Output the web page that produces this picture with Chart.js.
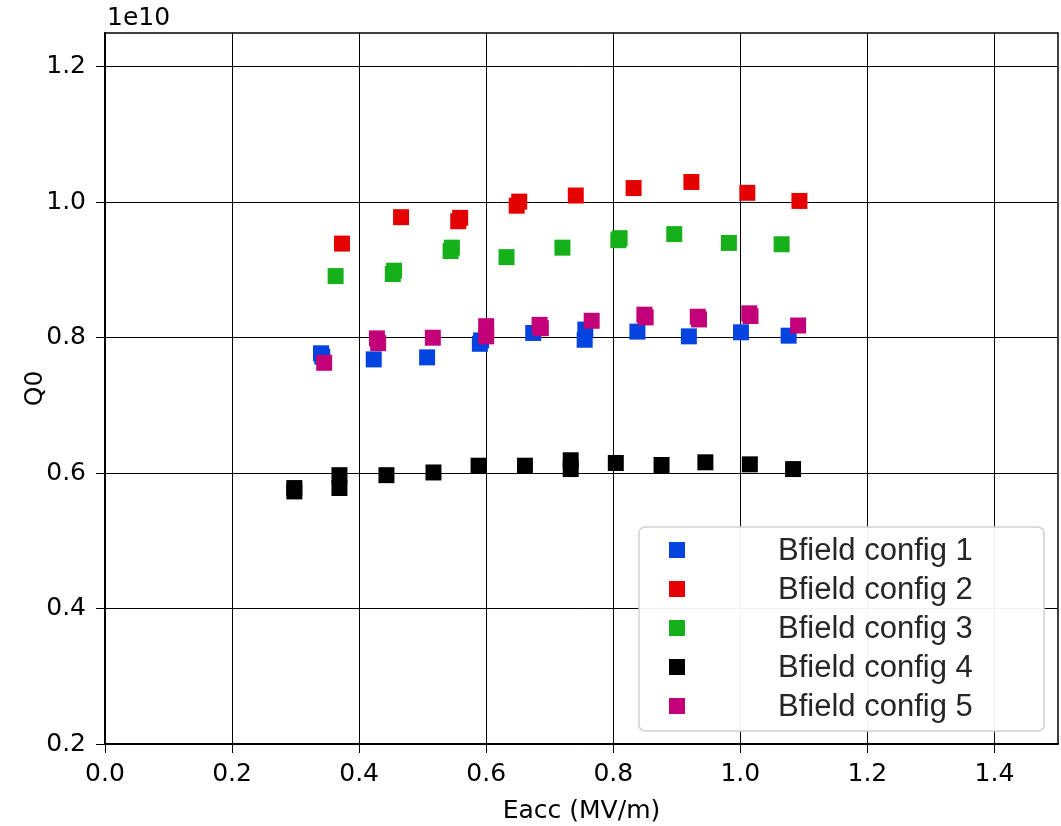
<!DOCTYPE html>
<html>
<head>
<meta charset="utf-8">
<script src="https://cdn.jsdelivr.net/npm/chart.js@4.4.1/dist/chart.umd.min.js"></script>
<style>
  body { margin: 0; background: #fff; overflow: hidden; }
  #wrap { width: 1061px; height: 826px; }
</style>
</head>
<body>
<div id="wrap"><canvas id="myChart"></canvas></div>
<script>
// Q0 values are in units of 1e10 (matches the axis offset label)
const labels = ["Bfield config 1", "Bfield config 2", "Bfield config 3", "Bfield config 4", "Bfield config 5"];
const colors = ["#0343df", "#e50000", "#15b01a", "#000000", "#c20078"];

const eacc_1 = [0.340, 0.342, 0.423, 0.507, 0.590, 0.592, 0.674, 0.755, 0.756, 0.838, 0.919, 1.001, 1.076];
const q0_1   = [0.777, 0.772, 0.768, 0.771, 0.791, 0.796, 0.807, 0.797, 0.812, 0.809, 0.802, 0.808, 0.803];

const eacc_2 = [0.373, 0.466, 0.556, 0.559, 0.648, 0.652, 0.741, 0.832, 0.923, 1.011, 1.093];
const q0_2   = [0.939, 0.978, 0.972, 0.977, 0.995, 1.001, 1.010, 1.021, 1.030, 1.014, 1.002];

const eacc_3 = [0.363, 0.453, 0.455, 0.544, 0.546, 0.632, 0.720, 0.808, 0.810, 0.896, 0.982, 1.065];
const q0_3   = [0.891, 0.894, 0.899, 0.928, 0.933, 0.919, 0.933, 0.944, 0.947, 0.953, 0.940, 0.938];

const eacc_4 = [0.298, 0.298, 0.369, 0.369, 0.443, 0.517, 0.588, 0.661, 0.733, 0.733, 0.804, 0.876, 0.945, 1.015, 1.083];
const q0_4   = [0.578, 0.573, 0.597, 0.578, 0.597, 0.601, 0.611, 0.611, 0.619, 0.606, 0.615, 0.612, 0.616, 0.613, 0.606];

const eacc_5 = [0.345, 0.428, 0.430, 0.516, 0.600, 0.600, 0.684, 0.686, 0.766, 0.849, 0.851, 0.933, 0.935, 1.014, 1.016, 1.091];
const q0_5   = [0.763, 0.799, 0.792, 0.800, 0.817, 0.802, 0.819, 0.814, 0.825, 0.834, 0.830, 0.831, 0.827, 0.836, 0.832, 0.818];

const xs = [eacc_1, eacc_2, eacc_3, eacc_4, eacc_5];
const ys = [q0_1, q0_2, q0_3, q0_4, q0_5];

const tickFont = { family: "DejaVu Sans", size: 25 };

function make_points(xv, yv) {
    var pts = [];
    for (let i = 0; i < xv.length; i++) {
        pts.push({ x: xv[i], y: yv[i] });
    }
    return pts;
}

var datasets = [];
for (let i = 0; i < labels.length; i++) {
    datasets.push({
        label: labels[i],
        data: make_points(xs[i], ys[i]),
        backgroundColor: colors[i],
        borderColor: colors[i],
        borderWidth: 0,
        pointStyle: 'rect',
        pointRadius: 11.3,
        pointHoverRadius: 11.3,
        order: labels.length - 1 - i
    });
}

// frame, offset text and matplotlib-like legend
const extras = {
    id: 'extras',
    afterDraw(chart) {
        const c = chart.ctx;
        const a = chart.chartArea;
        c.save();
        c.strokeStyle = '#000';
        c.lineWidth = 1.5;
        c.strokeRect(a.left, a.top, a.right - a.left, a.bottom - a.top);

        c.fillStyle = '#000';
        c.font = '25px "DejaVu Sans"';
        c.textAlign = 'left';
        c.textBaseline = 'alphabetic';
        c.fillText('1e10', a.left + 2, a.top - 8);

        // legend box
        var bx = a.right - 419, by = a.bottom - 217, bw = 405, bh = 204;
        c.beginPath();
        c.roundRect(bx, by, bw, bh, 6);
        c.fillStyle = 'rgba(255,255,255,0.95)';
        c.fill();
        c.strokeStyle = '#d0d0d0';
        c.lineWidth = 1.5;
        c.stroke();

        c.font = '31px "Liberation Sans"';
        c.textBaseline = 'middle';
        for (let i = 0; i < labels.length; i++) {
            var ry = by + 23 + i * 39;
            c.fillStyle = colors[i];
            c.fillRect(bx + 30, ry - 8, 16, 16);
            c.fillStyle = '#262626';
            c.fillText(labels[i], bx + 139, ry + 1);
        }
        c.restore();
    }
};

var ctx = document.getElementById('myChart');
var chart = new Chart(ctx, {
    type: 'scatter',
    data: { datasets: datasets },
    options: {
        responsive: true,
        maintainAspectRatio: false,
        animation: false,
        layout: { autoPadding: false, padding: { top: 33, right: 3, left: 0, bottom: 0 } },
        plugins: {
            legend: { display: false },
            tooltip: { enabled: false }
        },
        scales: {
            x: {
                type: 'linear',
                min: 0,
                max: 1.5,
                afterFit: function(scale) {
                    scale.height = 82;
                    scale.paddingLeft = 0;
                    scale.paddingRight = 0;
                },
                ticks: {
                    stepSize: 0.2,
                    includeBounds: false,
                    color: '#000',
                    font: tickFont,
                    padding: 6,
                    maxRotation: 0,
                    callback: function(v) { return v.toFixed(1); }
                },
                grid: { color: '#000', lineWidth: 1, tickLength: 9 },
                border: { color: '#000', width: 1.5 },
                title: { display: true, text: 'Eacc (MV/m)', color: '#000', font: tickFont, padding: { top: 2, bottom: 0 } }
            },
            y: {
                type: 'linear',
                min: 0.2,
                max: 1.25,
                afterFit: function(scale) {
                    scale.width = 105;
                    scale.paddingTop = 0;
                    scale.paddingBottom = 0;
                },
                ticks: {
                    stepSize: 0.2,
                    includeBounds: false,
                    color: '#000',
                    font: tickFont,
                    padding: 10,
                    callback: function(v) { return v.toFixed(1); }
                },
                grid: { color: '#000', lineWidth: 1, tickLength: 9 },
                border: { color: '#000', width: 1.5 },
                title: { display: true, text: 'Q0', color: '#000', font: tickFont, padding: { top: 20, bottom: 0 } }
            }
        }
    },
    plugins: [extras]
});
</script>
</body>
</html>
